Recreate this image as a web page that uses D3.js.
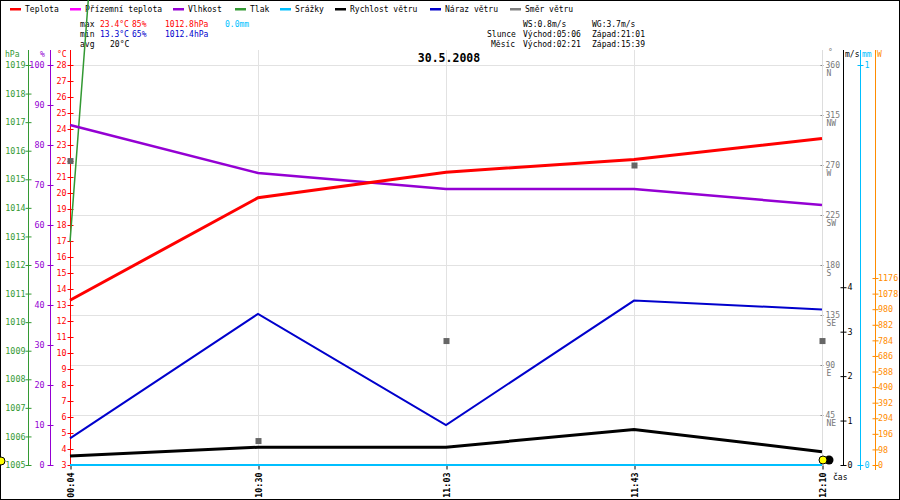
<!DOCTYPE html>
<html>
<head>
<meta charset="utf-8">
<script src="https://cdn.jsdelivr.net/npm/d3@7/dist/d3.min.js"></script>
<style>
  body { margin: 0; background: #fff; }
  svg { display: block; font-family: "DejaVu Sans Mono", monospace; }
</style>
</head>
<body>
<svg id="chart" width="900" height="500"></svg>
<script>
// values
const times = ["00:04", "10:30", "11:03", "11:43", "12:10"];
const teplota = [13.3, 19.7, 21.3, 22.1, 23.4];       // °C
const vlhkost = [85, 73, 69, 69, 65];                 // %
const tlak = [1012.8, 1100, 1100, 1100, 1100];        // hPa (runs off the top)
const srazky = [0, 0, 0, 0, 0];                       // mm
const rychlost = [0.2, 0.4, 0.4, 0.8, 0.3];           // m/s
const naraz = [0.6, 3.4, 0.9, 3.7, 3.5];              // m/s
const smer = [274, 22, 112, 270, 112];                // °

const legendNames = ["Teplota", "Přízemní teplota", "Vlhkost", "Tlak", "Srážky", "Rychlost větru", "Náraz větru", "Směr větru"];
const legendColors = ["#ff0000", "#ff00ff", "#9400d3", "#339933", "#00bfff", "#000000", "#0000cc", "#808080"];
const legendX = [10, 70, 173, 235, 280, 335, 430, 510];

const tempTicks = d3.range(3, 29);
const humTicks = [0, 10, 20, 30, 40, 50, 60, 70, 80, 90, 100];
const presTicks = [1005, 1006, 1007, 1008, 1009, 1010, 1011, 1012, 1013, 1014, 1015, 1016, 1017, 1018, 1019];
const dirTicks = [45, 90, 135, 180, 225, 270, 315, 360];
const dirNames = ["NE", "E", "SE", "S", "SW", "W", "NW", "N"];
const speedTicks = [0, 1, 2, 3, 4];
const rainTicks = [0, 1];
const solarTicks = [0, 98, 196, 294, 392, 490, 588, 686, 784, 882, 980, 1078, 1176];

const svg = d3.select("#chart");
const plotTop = 50, plotBottom = 465, plotLeft = 70, plotRight = 822;
const fs = "8px";
const afs = "8.4px";
const mono = "DejaVu Sans Mono, monospace";

var x = d3.scalePoint().domain(times).range([plotLeft, plotRight]);
var yT = d3.scaleLinear().domain([3, 28]).range([plotBottom, 65]);
var yH = d3.scaleLinear().domain([0, 100]).range([plotBottom, 65]);
var yP = d3.scaleLinear().domain([1005, 1019]).range([plotBottom, 65]);
var yD = d3.scaleLinear().domain([0, 360]).range([plotBottom, 65]);
var yS = d3.scaleLinear().domain([0, 9]).range([plotBottom, 65]);
var yR = d3.scaleLinear().domain([0, 1]).range([plotBottom, 65]);
var yW = d3.scaleLinear().domain([0, 2516]).range([plotBottom, 65]);

// border
svg.append("rect").attr("x", 0.5).attr("y", 0.5).attr("width", 899).attr("height", 499)
    .attr("fill", "#fff").attr("stroke", "#000");

// grid
svg.append("g").selectAll("line").data(dirTicks).join("line")
    .attr("x1", plotLeft).attr("x2", plotRight)
    .attr("y1", d => Math.round(yD(d)) + 0.5).attr("y2", d => Math.round(yD(d)) + 0.5)
    .attr("stroke", "#e2e2e2");
svg.append("g").selectAll("line").data(times).join("line")
    .attr("x1", d => x(d) + 0.5).attr("x2", d => x(d) + 0.5)
    .attr("y1", plotTop).attr("y2", plotBottom)
    .attr("stroke", "#e2e2e2");

// legend
var leg = svg.append("g").attr("font-size", fs);
legendNames.forEach((name, i) => {
    leg.append("rect").attr("x", legendX[i]).attr("y", 8).attr("width", 11).attr("height", 2.5)
        .attr("fill", legendColors[i]);
    leg.append("text").attr("x", legendX[i] + 15).attr("y", 12).text(name);
});

// stats block
var stats = svg.append("g").attr("font-size", fs);
function st(xp, yp, txt, col) {
    stats.append("text").attr("x", xp).attr("y", yp).attr("fill", col || "#000").text(txt);
}
st(80, 27, "max"); st(100, 27, "23.4°C", "#ff0000"); st(132, 27, "85%", "#ff0000");
st(165, 27, "1012.8hPa", "#ff0000"); st(225, 27, "0.0mm", "#00bfff");
st(80, 37, "min"); st(100, 37, "13.3°C", "#0000cc"); st(132, 37, "65%", "#0000cc");
st(165, 37, "1012.4hPa", "#0000cc");
st(80, 47, "avg"); st(110, 47, "20°C");
st(523, 27, "WS:0.8m/s"); st(592, 27, "WG:3.7m/s");
st(487, 37, "Slunce"); st(523, 37, "Východ:05:06"); st(592, 37, "Západ:21:01");
st(491, 47, "Měsíc"); st(523, 47, "Východ:02:21"); st(592, 47, "Západ:15:39");

svg.append("text").attr("x", 449).attr("y", 62).attr("text-anchor", "middle")
    .attr("font-size", "11.5px").attr("font-weight", "bold").text("30.5.2008");

// vertical axes
function vAxis(xp, scale, ticks, color, side, pad, y2) {
    var ax = (side === "left" ? d3.axisLeft(scale) : d3.axisRight(scale))
        .tickValues(ticks).tickFormat(d3.format("d"))
        .tickSize(3).tickSizeOuter(0).tickPadding(pad);
    var g = svg.append("g").attr("transform", "translate(" + (xp + 0.5) + ",0)").call(ax);
    g.select(".domain").remove();
    g.selectAll(".tick line").attr("x1", -3).attr("x2", 3).attr("stroke", color);
    g.selectAll(".tick text").attr("fill", color).attr("font-size", afs)
        .attr("font-family", mono);
    g.append("line").attr("x1", 0).attr("x2", 0).attr("y1", plotTop).attr("y2", y2 || plotBottom)
        .attr("stroke", color);
    return g;
}
vAxis(28, yP, presTicks, "#339933", "left", 0);
vAxis(50, yH, humTicks, "#9400d3", "left", 3);
vAxis(70, yT, tempTicks, "#ff0000", "left", 1);
vAxis(843, yS, speedTicks, "#000000", "right", 1);
vAxis(860, yR, rainTicks, "#00bfff", "right", 1, 470);
vAxis(875, yW, solarTicks, "#ff8c00", "right", -0.5, 470);

// wind direction axis (grey, with compass names)
var gd = svg.append("g").attr("transform", "translate(" + (plotRight + 0.5) + ",0)")
    .call(d3.axisRight(yD).tickValues(dirTicks).tickFormat(d3.format("d"))
        .tickSize(2).tickSizeOuter(0).tickPadding(1));
gd.select(".domain").remove();
gd.selectAll(".tick line").attr("x1", -2).attr("x2", 1).attr("stroke", "#888");
gd.selectAll(".tick text").attr("fill", "#777").attr("font-size", fs)
    .attr("font-family", mono);
gd.selectAll(".tick").append("text")
    .attr("x", 4).attr("y", 10.5).attr("fill", "#777").attr("font-size", fs)
    .attr("font-family", mono)
    .text((d, i) => dirNames[i]);
gd.append("line").attr("y1", plotTop).attr("y2", plotBottom).attr("stroke", "#ddd");

// axis headers
var hd = svg.append("g").attr("font-size", fs);
hd.append("text").attr("x", 5).attr("y", 57).attr("fill", "#339933").text("hPa");
hd.append("text").attr("x", 40).attr("y", 57).attr("fill", "#9400d3").text("%");
hd.append("text").attr("x", 57).attr("y", 57).attr("fill", "#ff0000").text("°C");
hd.append("text").attr("x", 828).attr("y", 55).attr("fill", "#777").text("°");
hd.append("text").attr("x", 845).attr("y", 57).attr("fill", "#000").text("m/s");
hd.append("text").attr("x", 862).attr("y", 57).attr("fill", "#00bfff").text("mm");
hd.append("text").attr("x", 877).attr("y", 57).attr("fill", "#ff8c00").text("W");

// time axis
var gx = svg.append("g").attr("transform", "translate(0," + (plotBottom + 0.5) + ")")
    .call(d3.axisBottom(x).tickSize(4).tickSizeOuter(0));
gx.select(".domain").remove();
gx.selectAll(".tick line").attr("transform", "translate(0.5,0)");
gx.selectAll(".tick text")
    .attr("transform", "rotate(-90)")
    .attr("text-anchor", "end").attr("x", -7).attr("y", 1).attr("dy", "0.35em")
    .attr("font-size", afs).attr("font-weight", "bold")
    .attr("font-family", mono);
svg.append("text").attr("x", 833).attr("y", 480).attr("font-size", fs).text("čas");

// series
function drawLine(values, scale, color, width) {
    svg.append("path")
        .datum(values)
        .attr("fill", "none").attr("stroke", color).attr("stroke-width", width)
        .attr("d", d3.line().x((d, i) => x(times[i])).y(d => scale(d)));
}
drawLine(srazky, yR, "#00bfff", 2);
drawLine(tlak, yP, "#339933", 1.5);
drawLine(vlhkost, yH, "#9400d3", 2.5);
drawLine(naraz, yS, "#0000cc", 2);
drawLine(rychlost, yS, "#000000", 3);
drawLine(teplota, yT, "#ff0000", 3);

svg.append("g").selectAll("rect").data(smer).join("rect")
    .attr("x", (d, i) => x(times[i]) - 2.5).attr("y", d => yD(d) - 2.5)
    .attr("width", 6).attr("height", 6).attr("fill", "#666");

// sun / moon markers
svg.append("circle").attr("cx", 1).attr("cy", 461).attr("r", 4)
    .attr("fill", "#ffff00").attr("stroke", "#000");
svg.append("circle").attr("cx", 829).attr("cy", 460).attr("r", 4.5).attr("fill", "#000");
svg.append("circle").attr("cx", 823).attr("cy", 460).attr("r", 4)
    .attr("fill", "#ffff00").attr("stroke", "#000");
</script>
</body>
</html>
